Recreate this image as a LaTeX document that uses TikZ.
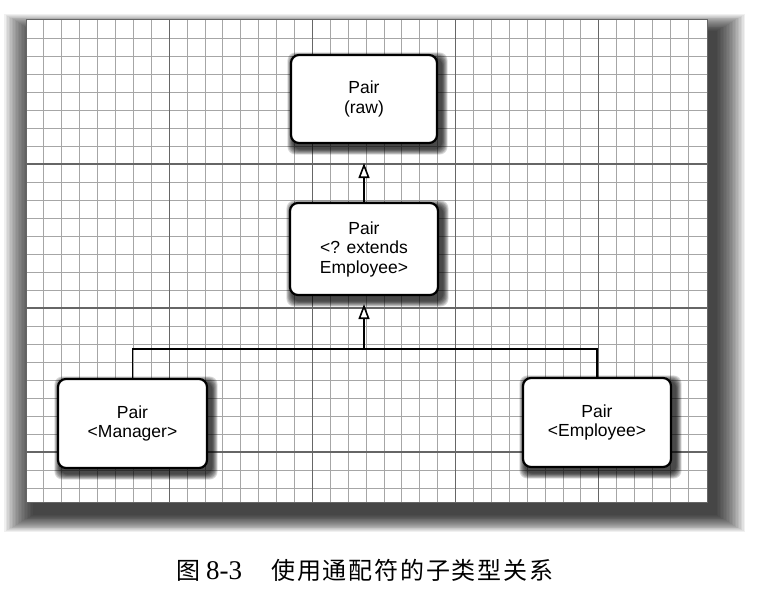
\documentclass[tikz,border=0pt]{standalone}
\usepackage{fontspec}
\setmainfont{Liberation Serif}
\newfontfamily\helv{Liberation Sans}
\newfontfamily\cjk{Noto Sans CJK SC}
\usetikzlibrary{arrows.meta}
\pgfdeclarelayer{shadeA}
\pgfdeclarelayer{shadeB}
\pgfsetlayers{shadeA,shadeB,main}
\tikzset{
  umlbox/.style={draw=black, line width=2.2pt, rounded corners=8pt, fill=white,
    align=center, inner sep=0pt, font=\helv\fontsize{17.5}{19.5}\selectfont},
  minorline/.style={draw=black!35, line width=0.9pt},
  majorline/.style={draw=black!60, line width=1.3pt},
  conn/.style={draw=black, line width=1.8pt},
  inherit/.style={-{Triangle[open, fill=white, length=15pt, width=11pt, line width=1.6pt]}}
}
\begin{document}
\begin{tikzpicture}[x=1pt,y=-1pt]
\useasboundingbox (0,0) rectangle (776,601);

% boxes
\node[umlbox, minimum width=146pt, minimum height=88pt] (top) at (364,99) {Pair\\(raw)};
\node[umlbox, minimum width=148pt, minimum height=92pt] (mid) at (364,249) {Pair\\\textless? extends\\Employee\textgreater};
\node[umlbox, minimum width=149pt, minimum height=89pt] (bl) at (132.5,423.5) {Pair\\\textless Manager\textgreater};
\node[umlbox, minimum width=148pt, minimum height=89pt] (br) at (597,422.5) {Pair\\\textless Employee\textgreater};

% connectors
\draw[conn, inherit] (mid.north) -- ([yshift=-19pt]top.south);
\path (mid.south) ++(0,53) coordinate (j);
\draw[conn] (bl.north) |- (j) -| (br.north);
\draw[conn, inherit] (j) -- ([yshift=-8pt]mid.south);

% caption
\node[anchor=base west, inner sep=0pt] (fig) at (176,579)
  {{\cjk\fontsize{24}{24}\selectfont 图}\hspace{6pt}{\fontsize{27}{27}\selectfont 8-3}};
\node[anchor=base west, inner sep=0pt] (title) at (271,579)
  {\cjk\fontsize{24}{24}\selectfont 使\hspace{1.8pt}用\hspace{1.8pt}通\hspace{1.8pt}配\hspace{1.8pt}符\hspace{1.8pt}的\hspace{1.8pt}子\hspace{1.8pt}类\hspace{1.8pt}型\hspace{1.8pt}关\hspace{1.8pt}系};

% background: frame shadow, grid
\begin{pgfonlayer}{shadeA}
  \fill[white] (0,0) rectangle (776,601);
  \foreach \i in {1,...,20}{
    \fill[black, fill opacity=0.06] (34-1.5*\i, 32-0.9*\i) rectangle (715+1.5*\i, 514+0.9*\i);
  }
  \fill[white] (26,20) rectangle (707,502);
  \foreach \k in {1,...,37}{
    \draw[minorline] (26+17.9*\k,20) -- (26+17.9*\k,502);
  }
  \foreach \k in {1,...,26}{
    \draw[minorline] (26,20+18*\k) -- (707,20+18*\k);
  }
  \foreach \k in {8,16,24,32}{
    \draw[majorline] (26+17.9*\k,20) -- (26+17.9*\k,502);
  }
  \foreach \k in {8,16,24}{
    \draw[majorline] (26,20+18*\k) -- (707,20+18*\k);
  }
  \draw[black!60, line width=1pt] (26,20) rectangle (707,502);
\end{pgfonlayer}

% box shadows
\begin{pgfonlayer}{shadeB}
  \foreach \n in {top,mid,bl,br}{
    \foreach \i in {1,...,8}{
      \fill[black, fill opacity=0.14, rounded corners=8pt]
        ([shift={(3.5-0.75*\i,4.5-0.75*\i)}]\n.north west) rectangle
        ([shift={(3.5+0.75*\i,4.5+0.75*\i)}]\n.south east);
    }
  }
\end{pgfonlayer}
\end{tikzpicture}
\end{document}
